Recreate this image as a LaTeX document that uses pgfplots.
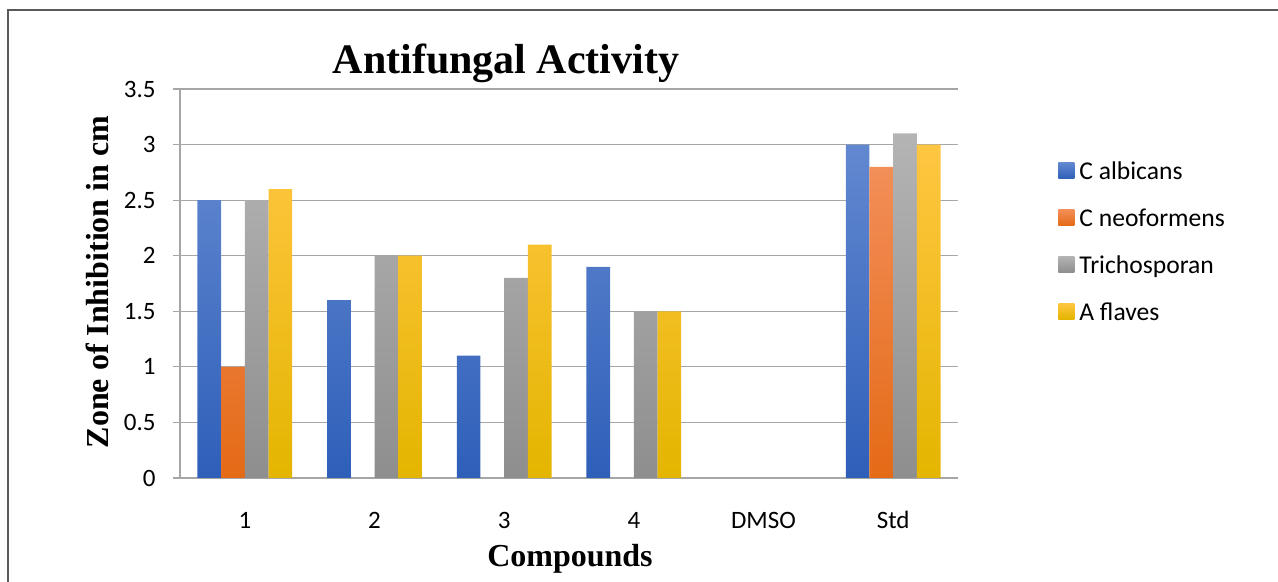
\documentclass[border=0pt]{standalone}
\usepackage{fontspec}
\setmainfont{Liberation Serif}
\newfontfamily\carlito{Carlito}
\usepackage{pgfplots}
\pgfplotsset{compat=1.18}
\definecolor{gridgray}{RGB}{166,166,166}
\definecolor{framegray}{RGB}{89,89,89}
\definecolor{blueT}{RGB}{98,136,208}
\definecolor{blueB}{RGB}{46,95,185}
\definecolor{orangeT}{RGB}{242,142,88}
\definecolor{orangeB}{RGB}{228,106,22}
\definecolor{grayT}{RGB}{180,180,180}
\definecolor{grayB}{RGB}{142,142,142}
\definecolor{yellowT}{RGB}{255,198,66}
\definecolor{yellowB}{RGB}{228,181,0}

\begin{document}
\begin{tikzpicture}
\path[use as bounding box] (0,0) rectangle (639pt,291pt);
\draw[framegray, line width=0.8pt] (4pt,0) -- (4pt,286pt) -- (639pt,286pt);
\begin{axis}[
  at={(90pt,52pt)}, anchor=south west,
  scale only axis, width=389pt, height=194.5pt,
  xmin=-0.5, xmax=5.5, ymin=0, ymax=3.5,
  xtick={0,1,2,3,4,5}, xticklabels={1,2,3,4,DMSO,Std},
  ytick={0,0.5,1,1.5,2,2.5,3,3.5},
  yticklabels={0,0.5,1,1.5,2,2.5,3,3.5},
  ymajorgrids, grid style={gridgray, line width=0.6pt},
  axis x line*=bottom, axis y line*=left,
  axis line style={gridgray, line width=0.6pt},
  x tick style={draw=none}, y tick style={gridgray, line width=0.6pt},
  tick align=outside, major tick length=3.5pt,
  tick label style={font=\carlito\fontsize{12.5}{15}\selectfont},
  /pgf/number format/assume math mode=true,
  yticklabel style={anchor=east, inner sep=0pt, xshift=-8.5pt},
  xticklabel style={anchor=base, inner sep=0pt, yshift=-21.8pt},
  ybar=0pt, bar width=11.85pt,
  every axis plot/.append style={draw=none},
  legend style={at={(1.1285,0.8141)}, anchor=north west, draw=none, fill=none,
    inner sep=0pt, column sep=2.5pt, row sep=11.4pt,
    font=\carlito\fontsize{12.8}{15}\selectfont,
    nodes={inner sep=0pt, text height=9pt, text depth=3pt}},
  legend cell align=left,
  legend image code/.code={\path[#1] (0pt,-2.5pt) rectangle (8pt,5.5pt);},
]
\addplot[top color=blueT, bottom color=blueB]
  coordinates {(0,2.5) (1,1.6) (2,1.1) (3,1.9) (5,3.0)};
\addplot[top color=orangeT, bottom color=orangeB]
  coordinates {(0,1.0) (5,2.8)};
\addplot[top color=grayT, bottom color=grayB]
  coordinates {(0,2.5) (1,2.0) (2,1.8) (3,1.5) (5,3.1)};
\addplot[top color=yellowT, bottom color=yellowB]
  coordinates {(0,2.6) (1,2.0) (2,2.1) (3,1.5) (5,3.0)};
\legend{C albicans, C neoformens, Trichosporan, A flaves}
\end{axis}
\node[font=\bfseries\fontsize{21}{25}\selectfont, anchor=base] at (253pt,254pt) {Antifungal Activity};
\node[font=\bfseries\fontsize{16}{19}\selectfont, anchor=base, rotate=90] at (54pt,150pt) {Zone of Inhibition in cm};
\node[font=\bfseries\fontsize{16}{19}\selectfont, anchor=base] at (285pt,7.5pt) {Compounds};
\end{tikzpicture}
\end{document}
